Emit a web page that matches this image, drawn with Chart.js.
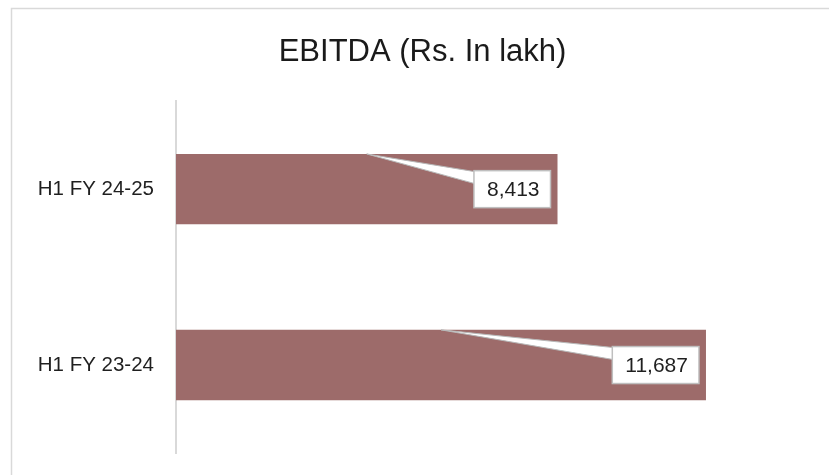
<!DOCTYPE html>
<html>
<head>
<meta charset="utf-8">
<script src="https://cdn.jsdelivr.net/npm/chart.js@4.4.1/dist/chart.umd.min.js"></script>
<style>
  html, body { margin: 0; padding: 0; background: #ffffff; overflow: hidden; }
  #wrap { position: absolute; left: 0; top: 0; width: 829px; height: 475px; }
</style>
</head>
<body>
<div id="wrap"><canvas id="c" width="829" height="475"></canvas></div>
<script>
const categories = ['H1 FY 24-25', 'H1 FY 23-24'];
const ebitdaValues = [8413, 11687];
const chartTitle = 'EBITDA (Rs. In lakh)';

const FONT = "'Liberation Sans', Arial, sans-serif";
const BAR_COLOR = '#9d6b6a';

const frameAndCallouts = {
  id: 'frameAndCallouts',
  beforeDraw(chart) {
    const ctx = chart.ctx;
    ctx.save();
    ctx.strokeStyle = '#d9d9d9';
    ctx.lineWidth = 1.5;
    ctx.strokeRect(11.5, 8.5, 900, 600);
    ctx.restore();
  },
  afterDatasetsDraw(chart) {
    const ctx = chart.ctx;
    const meta = chart.getDatasetMeta(0);
    const data = chart.data.datasets[0].data;
    ctx.save();
    ctx.font = '21px ' + FONT;
    meta.data.forEach((bar, i) => {
      const p = bar.getProps(['x', 'y', 'base', 'height'], true);
      const txt = data[i].toLocaleString('en-US');
      const tw = ctx.measureText(txt).width;
      const bw = tw + 24, bh = 37;
      const right = p.x - 7;
      const left = right - bw;
      const top = p.y - bh / 2;
      const apexX = (p.base + p.x) / 2;
      const apexY = p.y - p.height / 2;
      // wedge
      ctx.beginPath();
      ctx.moveTo(apexX, apexY);
      ctx.lineTo(left + 1, top + 1);
      ctx.lineTo(left + 1, top + 13);
      ctx.closePath();
      ctx.fillStyle = '#ffffff';
      ctx.fill();
      ctx.strokeStyle = '#b8b8b8';
      ctx.lineWidth = 1;
      ctx.stroke();
      // box
      ctx.fillStyle = '#ffffff';
      ctx.fillRect(left, top, bw, bh);
      ctx.strokeStyle = '#bfbfbf';
      ctx.lineWidth = 1.5;
      ctx.strokeRect(left, top, bw, bh);
      // text
      ctx.fillStyle = '#1f1f1f';
      ctx.textAlign = 'center';
      ctx.textBaseline = 'middle';
      ctx.fillText(txt, left + bw / 2 + 1, p.y + 1);
    });
    ctx.restore();
  }
};

new Chart(document.getElementById('c'), {
  type: 'bar',
  data: {
    labels: categories,
    datasets: [{
      data: ebitdaValues,
      backgroundColor: BAR_COLOR,
      borderWidth: 0,
      categoryPercentage: 0.8,
      barPercentage: 0.5
    }]
  },
  options: {
    indexAxis: 'y',
    responsive: false,
    animation: false,
    devicePixelRatio: 1,
    layout: { padding: { left: 16, right: 0, top: 0, bottom: 22 } },
    plugins: {
      legend: { display: false },
      tooltip: { enabled: false },
      title: {
        display: true,
        text: chartTitle,
        color: '#1a1a1a',
        font: { family: FONT, size: 31, weight: 'normal' },
        padding: { top: 34, bottom: 30 }
      }
    },
    scales: {
      x: {
        display: false,
        min: 0,
        max: 14400
      },
      y: {
        afterFit(scale) {
          scale.width = 160;
          scale.paddingTop = 0;
          scale.paddingBottom = 0;
        },
        grid: { display: false, drawTicks: false },
        border: { display: true, color: '#d9d9d9', width: 2 },
        ticks: {
          color: '#1f1f1f',
          padding: 22,
          font: { family: FONT, size: 20.5 }
        }
      }
    }
  },
  plugins: [frameAndCallouts]
});
</script>
</body>
</html>
